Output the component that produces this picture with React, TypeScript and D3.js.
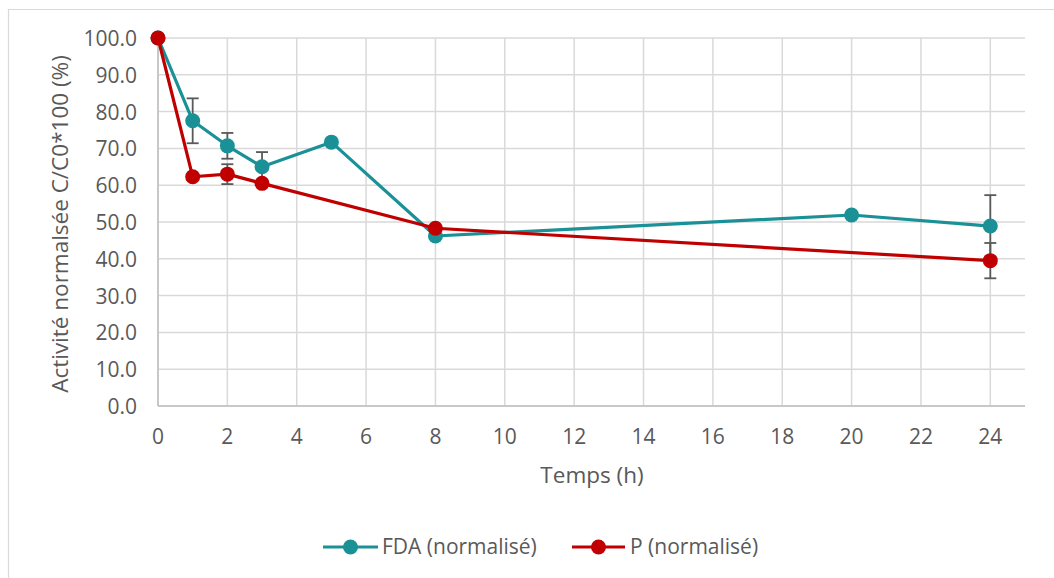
import React from "react";
import * as d3 from "d3";

const fdaTimes = [0, 1, 2, 3, 5, 8, 20, 24];
const fdaValues = [100, 77.5, 70.7, 65.0, 71.7, 46.2, 51.9, 48.9];
const fdaErrors = [0, 6.1, 3.5, 4.0, 0, 0, 0, 8.4];

const pTimes = [0, 1, 2, 3, 8, 24];
const pValues = [100, 62.3, 63.0, 60.5, 48.3, 39.5];
const pErrors = [0, 0.8, 2.7, 0, 0, 4.8];

const xTicks = [0, 2, 4, 6, 8, 10, 12, 14, 16, 18, 20, 22, 24];
const yTicks = [0, 10, 20, 30, 40, 50, 60, 70, 80, 90, 100];

const seriesNames = ["FDA (normalisé)", "P (normalisé)"];
const xTitle = "Temps (h)";
const yTitle = "Activité normalsée C/C0*100 (%)";

const W = 1054;
const H = 578;
const FONT = "'Open Sans', sans-serif";
const TEXT = "#595959";
const TEAL = "#1a9196";
const RED = "#c00000";

export default function App() {
  const x = d3.scaleLinear().domain([0, 25]).range([158, 1025]);
  const y = d3.scaleLinear().domain([0, 100]).range([406, 38]);

  const series = [
    { name: seriesNames[0], t: fdaTimes, v: fdaValues, e: fdaErrors, color: TEAL },
    { name: seriesNames[1], t: pTimes, v: pValues, e: pErrors, color: RED },
  ];

  const line = d3
    .line<[number, number]>()
    .x((d) => x(d[0]))
    .y((d) => y(d[1]));

  const legend = [
    { x0: 323, x1: 378, tx: 382, color: TEAL, name: seriesNames[0] },
    { x0: 572, x1: 625, tx: 630, color: RED, name: seriesNames[1] },
  ];

  return (
    <svg
      width={W}
      height={H}
      style={{ position: "fixed", left: 0, top: 0, background: "#fff" }}
      fontFamily={FONT}
    >
      <rect x={0} y={0} width={W} height={H} fill="#fff" />
      {/* chart frame */}
      <path d={`M8.5,${H + 2} L8.5,9.5 L${W + 2},9.5`} fill="none" stroke="#d9d9d9" strokeWidth={1.2} />

      {/* grid */}
      {yTicks.map((t) => (
        <line key={"gy" + t} x1={x(0)} x2={x(25)} y1={y(t)} y2={y(t)} stroke="#d9d9d9" strokeWidth={1.5} />
      ))}
      {xTicks.map((t) => (
        <line key={"gx" + t} x1={x(t)} x2={x(t)} y1={y(0)} y2={y(100)} stroke="#d9d9d9" strokeWidth={1.5} />
      ))}
      {/* axes */}
      <line x1={x(0)} x2={x(25)} y1={y(0)} y2={y(0)} stroke="#bfbfbf" strokeWidth={1.5} />
      <line x1={x(0)} x2={x(0)} y1={y(0)} y2={y(100)} stroke="#bfbfbf" strokeWidth={1.5} />

      {/* tick labels */}
      {yTicks.map((t) => (
        <text key={"ty" + t} x={137} y={y(t) + 8} textAnchor="end" fontSize={21} fill={TEXT}>
          {t.toFixed(1)}
        </text>
      ))}
      {xTicks.map((t) => (
        <text key={"tx" + t} x={x(t)} y={444} textAnchor="middle" fontSize={21} fill={TEXT}>
          {t}
        </text>
      ))}

      {/* axis titles */}
      <text x={592} y={483} textAnchor="middle" fontSize={22.5} fill={TEXT}>
        {xTitle}
      </text>
      <text
        transform={`translate(68,224) rotate(-90)`}
        textAnchor="middle"
        fontSize={22.5}
        fill={TEXT}
      >
        {yTitle}
      </text>

      {/* lines */}
      {series.map((s) => (
        <path
          key={"l" + s.name}
          d={line(s.t.map((t, i) => [t, s.v[i]] as [number, number])) || ""}
          fill="none"
          stroke={s.color}
          strokeWidth={3.2}
          strokeLinejoin="round"
        />
      ))}

      {/* error bars */}
      {series.map((s) =>
        s.t.map((t, i) =>
          s.e[i] > 0 ? (
            <g key={"e" + s.name + t} stroke="#595959" strokeWidth={1.8}>
              <line x1={x(t)} x2={x(t)} y1={y(s.v[i] + s.e[i])} y2={y(s.v[i] - s.e[i])} />
              <line x1={x(t) - 6} x2={x(t) + 6} y1={y(s.v[i] + s.e[i])} y2={y(s.v[i] + s.e[i])} />
              <line x1={x(t) - 6} x2={x(t) + 6} y1={y(s.v[i] - s.e[i])} y2={y(s.v[i] - s.e[i])} />
            </g>
          ) : null
        )
      )}

      {/* markers */}
      {series.map((s) =>
        s.t.map((t, i) => (
          <circle key={"m" + s.name + t} cx={x(t)} cy={y(s.v[i])} r={7.5} fill={s.color} />
        ))
      )}

      {/* legend */}
      {legend.map((l) => (
        <g key={"lg" + l.name}>
          <line x1={l.x0} x2={l.x1} y1={547} y2={547} stroke={l.color} strokeWidth={3.2} />
          <circle cx={(l.x0 + l.x1) / 2} cy={547} r={7.5} fill={l.color} />
          <text x={l.tx} y={554} fontSize={21} fill={TEXT}>
            {l.name}
          </text>
        </g>
      ))}
    </svg>
  );
}
